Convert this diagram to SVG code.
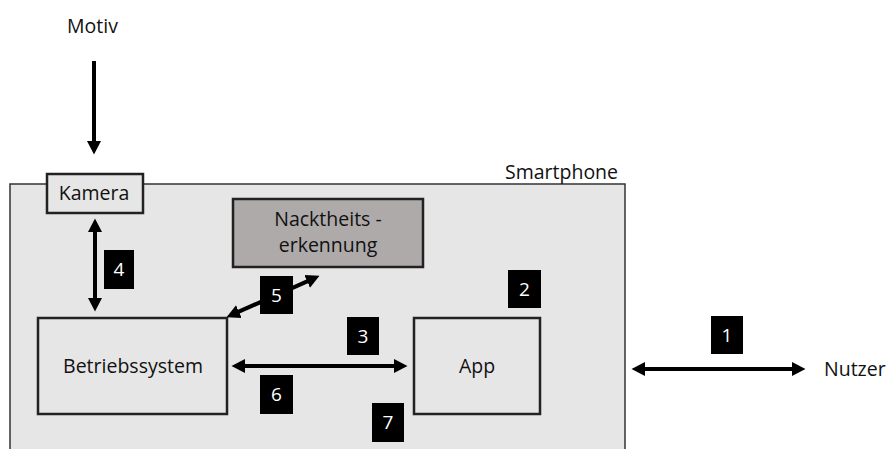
<svg xmlns="http://www.w3.org/2000/svg" width="888" height="449" viewBox="0 0 888 449">
<style>
  text { font-family: "Open Sans", "Liberation Sans", sans-serif; font-size: 19.5px; fill: #111; }
  .c { text-anchor: middle; }
  .box { fill: #e7e6e6; stroke: #222; stroke-width: 2.5; }
  .nb { fill: #000; }
  .nt { fill: #fff; text-anchor: middle; font-size: 19px; }
  .conn { stroke: #000; stroke-width: 4; fill: none; }
</style>
<defs>
  <marker id="ah" markerUnits="userSpaceOnUse" markerWidth="14" markerHeight="15" viewBox="0 0 14 15" refX="5" refY="7.5" orient="auto-start-reverse">
    <path d="M0,0.5 L13.5,7.5 L0,14.5 z" fill="#000"/>
  </marker>
</defs>
<rect x="0" y="0" width="888" height="449" fill="#fff"/>

<g id="smartphone">
  <rect x="10" y="184" width="615" height="300" fill="#e6e6e6" stroke="#333" stroke-width="1.5"/>
  <text x="505" y="179">Smartphone</text>
</g>

<g id="motiv">
  <text x="67" y="33">Motiv</text>
</g>

<g id="kamera">
  <rect class="box" x="47" y="174" width="96" height="39"/>
  <text class="c" x="94" y="200">Kamera</text>
</g>

<g id="nacktheitserkennung">
  <rect x="233" y="199" width="190" height="68" fill="#aeaaaa" stroke="#222" stroke-width="2.5"/>
  <text class="c" x="328" y="226">Nacktheits -</text>
  <text class="c" x="328" y="252">erkennung</text>
</g>

<g id="betriebssystem">
  <rect class="box" x="38" y="318" width="189" height="96"/>
  <text class="c" x="133" y="373">Betriebssystem</text>
</g>

<g id="app">
  <rect class="box" x="414" y="318" width="126" height="96"/>
  <text class="c" x="477" y="373">App</text>
</g>

<g id="nutzer">
  <text x="824" y="376">Nutzer</text>
</g>

<g id="connectors">
  <line class="conn" x1="94" y1="61" x2="94" y2="146" marker-end="url(#ah)"/>
  <line class="conn" x1="95" y1="227" x2="95" y2="303" marker-start="url(#ah)" marker-end="url(#ah)"/>
  <line class="conn" x1="234.3" y1="313.7" x2="311.7" y2="279.3" marker-start="url(#ah)" marker-end="url(#ah)"/>
  <line class="conn" x1="240" y1="366" x2="399" y2="366" marker-start="url(#ah)" marker-end="url(#ah)"/>
  <line class="conn" x1="640" y1="369" x2="797" y2="369" marker-start="url(#ah)" marker-end="url(#ah)"/>
</g>

<g id="labels">
  <rect class="nb" x="711" y="316" width="32" height="38"/><text class="nt" x="727" y="342">1</text>
  <rect class="nb" x="508" y="270" width="33" height="38"/><text class="nt" x="524.5" y="296">2</text>
  <rect class="nb" x="347" y="317" width="32" height="38"/><text class="nt" x="363" y="343">3</text>
  <rect class="nb" x="104" y="250" width="30" height="39"/><text class="nt" x="119" y="276">4</text>
  <rect class="nb" x="260" y="276" width="33" height="38"/><text class="nt" x="276.5" y="302">5</text>
  <rect class="nb" x="260" y="375" width="33" height="39"/><text class="nt" x="276.5" y="401">6</text>
  <rect class="nb" x="372" y="403" width="32" height="39"/><text class="nt" x="388" y="429">7</text>
</g>
</svg>
